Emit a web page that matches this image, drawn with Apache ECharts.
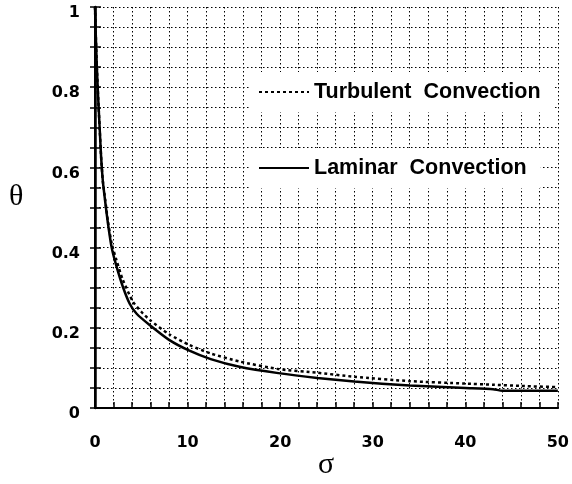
<!DOCTYPE html>
<html>
<head>
<meta charset="utf-8">
<script src="https://cdn.jsdelivr.net/npm/echarts@6/dist/echarts.min.js"></script>
<style>html,body{margin:0;padding:0;background:#fff}#c{width:572px;height:484px}</style>
</head>
<body>
<div id="c"></div>
<script>
var laminarSigma = [0, 0.1, 0.2, 0.35, 0.5, 0.65, 0.85, 1.1, 1.4, 1.8, 2.3, 3, 3.75, 4.5, 5.9, 8, 10.2, 12.5, 15.6, 19.8, 24, 28, 34, 40, 43, 44, 50];
var laminarTheta = [1, 0.92, 0.85, 0.77, 0.70, 0.63, 0.565, 0.515, 0.46, 0.40, 0.355, 0.303, 0.26, 0.235, 0.207, 0.17, 0.143, 0.122, 0.103, 0.087, 0.075, 0.066, 0.056, 0.05, 0.047, 0.043, 0.043];
var turbSigma = [0, 0.1, 0.2, 0.35, 0.5, 0.65, 0.85, 1.1, 1.4, 1.8, 2.3, 3, 4.1, 5, 5.9, 8, 10.2, 12.5, 15.6, 19.8, 24, 28, 34, 40, 43, 46, 50];
var turbTheta = [1, 0.92, 0.85, 0.77, 0.70, 0.63, 0.565, 0.52, 0.465, 0.41, 0.37, 0.32, 0.265, 0.24, 0.22, 0.184, 0.157, 0.136, 0.116, 0.097, 0.088, 0.078, 0.067, 0.061, 0.058, 0.055, 0.052];
var seriesNames = ['Turbulent  Convection', 'Laminar  Convection'];
var xLabels = [0, 10, 20, 30, 40, 50];
var yLabels = [0, 0.2, 0.4, 0.6, 0.8, 1];

function pairs(xs, ys) { return xs.map(function (x, i) { return [x, ys[i]]; }); }
function isIn(v, list) { return list.some(function (t) { return Math.abs(t - v) < 1e-6; }); }

var chart = echarts.init(document.getElementById('c'), null, { renderer: 'canvas' });
var tickFont = { fontFamily: 'DejaVu Sans', fontWeight: 'bold', fontSize: 16, color: '#000' };
var legendFont = { fontFamily: '"Liberation Sans", Arial', fontWeight: 'bold', fontSize: 21.5, color: '#000' };
var gridLine = { show: true, lineStyle: { color: '#000', width: 1, type: [1.5, 2.5] } };

chart.setOption({
  animation: false,
  backgroundColor: '#fff',
  grid: { left: 95, right: 12, top: 7, bottom: 76 },
  xAxis: [{
    type: 'value', min: 0, max: 50, interval: 2, position: 'bottom',
    axisLine: { show: true, lineStyle: { color: '#000', width: 2 } },
    axisTick: { show: true, inside: true, length: 6, lineStyle: { color: '#000', width: 1.5 } },
    axisLabel: Object.assign({ margin: 27, formatter: function (v) { return isIn(v, xLabels) ? String(v) : ''; } }, tickFont),
    splitLine: gridLine
  }, {
    type: 'value', min: 0, max: 50, interval: 2, position: 'top',
    axisLine: { show: true, lineStyle: { color: '#000', width: 2 } },
    axisTick: { show: false }, axisLabel: { show: false }, splitLine: { show: false }
  }],
  yAxis: [{
    type: 'value', min: 0, max: 1, interval: 0.05, position: 'left',
    axisLine: { show: true, lineStyle: { color: '#000', width: 2.5 } },
    axisTick: { show: true, inside: true, length: 6, lineStyle: { color: '#000', width: 1.5 } },
    axisLabel: Object.assign({ margin: 15, verticalAlign: 'top', lineHeight: 12, formatter: function (v) {
      if (!isIn(v, yLabels)) return '';
      if (Math.abs(v) < 1e-6) return '0';
      if (Math.abs(v - 1) < 1e-6) return '1';
      return v.toFixed(1);
    } }, tickFont),
    splitLine: gridLine
  }, {
    type: 'value', min: 0, max: 1, interval: 0.05, position: 'right',
    axisLine: { show: true, lineStyle: { color: '#000', width: 2 } },
    axisTick: { show: true, inside: true, length: 5, lineStyle: { color: '#000', width: 1.5 } },
    axisLabel: { show: false }, splitLine: { show: false }
  }],
  legend: [{
    data: [seriesNames[0]], left: 250, top: 72, orient: 'horizontal',
    itemWidth: 50, itemHeight: 14, itemGap: 0, padding: [9, 14, 9, 8],
    itemStyle: { opacity: 0 },
    backgroundColor: '#fff', textStyle: legendFont, selectedMode: false
  }, {
    data: [seriesNames[1]], left: 250, top: 148, orient: 'horizontal',
    itemWidth: 50, itemHeight: 14, itemGap: 0, padding: [9, 14, 9, 8],
    itemStyle: { opacity: 0 },
    backgroundColor: '#fff', textStyle: legendFont, selectedMode: false
  }],
  series: [{
    name: seriesNames[0], type: 'line', data: pairs(turbSigma, turbTheta),
    showSymbol: false, symbol: 'none', smooth: 0.2,
    itemStyle: { color: '#000' },
    lineStyle: { color: '#000', width: 2.5, type: [3, 3] }, z: 3
  }, {
    name: seriesNames[1], type: 'line', data: pairs(laminarSigma, laminarTheta),
    showSymbol: false, symbol: 'none', smooth: 0.2,
    itemStyle: { color: '#000' },
    lineStyle: { color: '#000', width: 2.5, type: 'solid' }, z: 4
  }],
  graphic: [{
    type: 'text', left: 9, top: 182,
    style: { text: 'θ', font: '30px "Liberation Serif", "Times New Roman", serif', fill: '#000' }
  }, {
    type: 'text', left: 318, top: 450,
    style: { text: 'σ', font: '30px "Liberation Serif", "Times New Roman", serif', fill: '#000' }
  }]
});
</script>
</body>
</html>
